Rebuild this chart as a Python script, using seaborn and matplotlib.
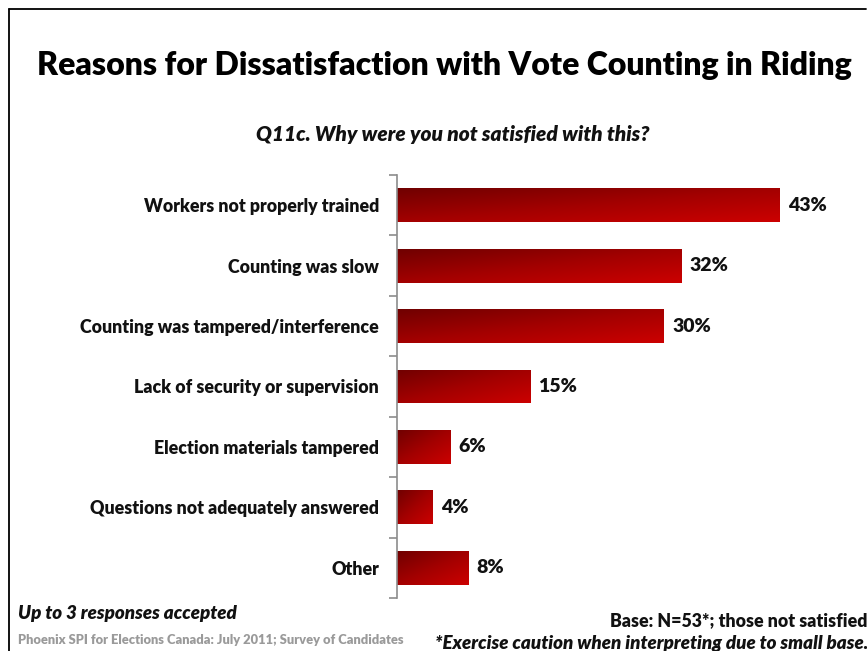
import numpy as np
import pandas as pd
import matplotlib
matplotlib.use("Agg")
import matplotlib.pyplot as plt
import seaborn as sns
from matplotlib.lines import Line2D
from matplotlib.colors import LinearSegmentedColormap
from matplotlib.ticker import FixedLocator

reasons = [
    "Workers not properly trained",
    "Counting was slow",
    "Counting was tampered/interference",
    "Lack of security or supervision",
    "Election materials tampered",
    "Questions not adequately answered",
    "Other",
]
percent = [43, 32, 30, 15, 6, 4, 8]
value_labels = ["43%", "32%", "30%", "15%", "6%", "4%", "8%"]

title = "Reasons for Dissatisfaction with Vote Counting in Riding"
question = "Q11c. Why were you not satisfied with this?"
note_left = "Up to 3 responses accepted"
source = "Phoenix SPI for Elections Canada: July 2011; Survey of Candidates"
base_note = "Base: N=53*; those not satisfied"
caution = "*Exercise caution when interpreting due to small base."

sns.set_theme(style="white")
plt.rcParams["font.family"] = ["Lato", "DejaVu Sans"]

W, H = 867, 651
fig = plt.figure(figsize=(W / 100, H / 100), dpi=100)
HEAVY = "heavy"

def fx(px):
    return px / W

def fy(py):
    return 1 - py / H

ax = fig.add_axes([fx(397), fy(598), fx(842) - fx(397), fy(175) - fy(598)])

df = pd.DataFrame({"reason": reasons, "pct": percent})
sns.barplot(data=df, x="pct", y="reason", orient="h", ax=ax,
            color="#a00000", width=0.56, saturation=1)

ax.set_xlim(0, 50)
ax.set_ylim(len(reasons) - 0.5, -0.5)
ax.set_xlabel("")
ax.set_ylabel("")
ax.set_xticks([])

for side in ["top", "right", "bottom"]:
    ax.spines[side].set_visible(False)
ax.spines["left"].set_color("#8c8c8c")
ax.spines["left"].set_linewidth(1.2)

# category labels at bar centers, tick marks at category boundaries
ax.tick_params(axis="y", which="major", length=0, pad=13)
ax.yaxis.set_minor_locator(FixedLocator(np.arange(-0.5, len(reasons), 1.0)))
ax.tick_params(axis="y", which="minor", length=6, width=1.2, color="#8c8c8c", left=True)
for lbl in ax.get_yticklabels():
    lbl.set_fontsize(12.8)
    lbl.set_fontweight(HEAVY)
    lbl.set_color("#111111")

# diagonal dark-to-bright red gradient inside each bar (top-left dark, bottom-right bright)
cmap = LinearSegmentedColormap.from_list("redgrad", ["#700000", "#a30000", "#cc0000"])
gx, gy = np.meshgrid(np.linspace(0, 1, 200), np.linspace(0, 1, 40))
grad = 0.5 * gx + 0.5 * gy
for patch in list(ax.patches):
    x0, y0 = patch.get_x(), patch.get_y()
    w, h = patch.get_width(), patch.get_height()
    patch.set_facecolor("none")
    patch.set_edgecolor("none")
    im = ax.imshow(grad, cmap=cmap, aspect="auto", interpolation="bilinear",
                   extent=[x0, x0 + w, y0 + h, y0], zorder=2)
    im.set_clip_path(patch)

ax.set_xlim(0, 50)
ax.set_ylim(len(reasons) - 0.5, -0.5)

for i, (v, t) in enumerate(zip(percent, value_labels)):
    ax.text(v + 0.9, i, t, va="center", ha="left", fontsize=14,
            fontweight=HEAVY, color="#111111")

fig.text(fx(444), fy(66), title, ha="center", va="center",
         fontsize=23, fontweight=HEAVY, color="#000000")
fig.text(fx(453), fy(134), question, ha="center", va="center",
         fontsize=15, fontweight=HEAVY, fontstyle="italic", color="#111111")
fig.text(fx(18), fy(614), note_left, ha="left", va="center",
         fontsize=13.5, fontweight=HEAVY, fontstyle="italic", color="#111111")
fig.text(fx(18), fy(640), source, ha="left", va="center",
         fontsize=9.3, fontweight=HEAVY, color="#9a9a9a")
fig.text(fx(867), fy(621), base_note, ha="right", va="center",
         fontsize=12.8, fontweight=HEAVY, color="#111111")
fig.text(fx(435), fy(644), caution, ha="left", va="center",
         fontsize=13.5, fontweight=HEAVY, fontstyle="italic", color="#111111")

# slide frame
fig.add_artist(Line2D([fx(9), fx(866)], [fy(9), fy(9)], color="#000000", lw=1.3))
fig.add_artist(Line2D([fx(9), fx(9)], [fy(9), 0], color="#000000", lw=1.3))

fig.savefig("out.png", dpi=100)
